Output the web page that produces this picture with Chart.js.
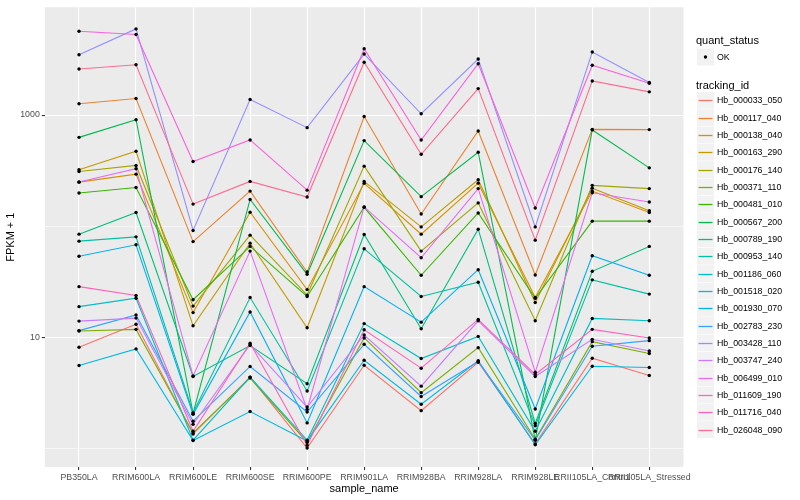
<!DOCTYPE html>
<html>
<head>
<meta charset="utf-8">
<script src="https://cdn.jsdelivr.net/npm/chart.js@4/dist/chart.umd.min.js"></script>
<style>
html,body{margin:0;padding:0;background:#ffffff;}
#wrap{position:relative;width:800px;height:500px;font-family:"Liberation Sans",Arial,sans-serif;overflow:hidden;}
#c{position:absolute;left:0;top:0;}
.lg-title{position:absolute;left:696px;font-size:11px;color:#000;line-height:13px;white-space:nowrap;}
.lg-text{position:absolute;left:717px;font-size:8.8px;color:#000;line-height:12px;white-space:nowrap;}
</style>
</head>
<body>
<div id="wrap">
<canvas id="c" width="800" height="500"></canvas>
<div id="legend"></div>
</div>
<script>
// ---- data ----
const categories = ['PB350LA','RRIM600LA','RRIM600LE','RRIM600SE','RRIM600PE','RRIM901LA','RRIM928BA','RRIM928LA','RRIM928LE','RRII105LA_Control','RRII105LA_Stressed'];
const trackingIds = ['Hb_000033_050','Hb_000117_040','Hb_000138_040','Hb_000163_290','Hb_000176_140','Hb_000371_110','Hb_000481_010','Hb_000567_200','Hb_000789_190','Hb_000953_140','Hb_001186_060','Hb_001518_020','Hb_001930_070','Hb_002783_230','Hb_003428_110','Hb_003747_240','Hb_006499_010','Hb_011609_190','Hb_011716_040','Hb_026048_090'];
const quantStatus = ['OK'];

const hb_000033_050 = [8.14, 13.1, 1.35, 4.39, 1.01, 5.61, 2.19, 5.97, 1.10, 6.49, 4.54];
const hb_000117_040 = [1263, 1408, 72.7, 207, 38.7, 971, 128.9, 719, 36.4, 743, 740];
const hb_000138_040 = [249, 294, 16.7, 133.5, 26.9, 243, 84.8, 244, 22.8, 207, 132.7];
const hb_000163_290 = [322, 472, 12.7, 70.4, 12.2, 253, 98.6, 262, 20.6, 220, 138];
const hb_000176_140 = [311, 352, 19.1, 83.1, 24.0, 347, 59.7, 162, 14.1, 233, 218];
const hb_000371_110 = [11.4, 11.8, 1.38, 4.30, 1.14, 9.88, 3.18, 8.08, 1.21, 9.15, 7.15];
const hb_000481_010 = [199, 223, 21.8, 65.8, 23.3, 148, 36.2, 131.5, 22.5, 111, 111];
const hb_000567_200 = [630, 907, 2.07, 174, 36.9, 589, 184.5, 463, 1.19, 735, 335];
const hb_000789_190 = [84.8, 132.7, 4.45, 8.43, 3.83, 84.3, 11.96, 94, 1.68, 39.3, 65.8];
const hb_000953_140 = [73.4, 80.2, 2.1, 22.8, 3.29, 62.6, 23.3, 31.3, 1.60, 32.9, 24.5];
const hb_001186_060 = [18.9, 22.5, 1.19, 4.39, 1.19, 13.3, 6.45, 10.2, 1.43, 14.8, 14.1];
const hb_001518_020 = [5.58, 7.87, 1.18, 2.15, 1.17, 6.22, 2.50, 6.15, 1.08, 5.50, 5.36];
const hb_001930_070 = [53.6, 68.0, 2.03, 16.9, 1.70, 28.6, 13.7, 40.6, 2.27, 54.2, 36.2];
const hb_002783_230 = [11.5, 15.9, 1.76, 5.47, 2.13, 8.66, 2.94, 6.06, 1.19, 8.31, 9.34];
const hb_003428_110 = [3487, 5961, 91.5, 1379, 770, 3538, 1027, 3192, 98.6, 3687, 1960];
const hb_003747_240 = [14.0, 14.9, 1.65, 8.60, 2.36, 10.5, 3.64, 14.1, 4.45, 9.60, 7.55];
const hb_006499_010 = [250, 329, 4.50, 59.7, 2.25, 149, 52.0, 218, 4.86, 200, 165];
const hb_011609_190 = [5683, 5312, 382, 597, 211, 3947, 597, 2897, 146, 2804, 1930];
const hb_011716_040 = [28.6, 23.8, 1.43, 8.84, 1.07, 11.7, 5.28, 14.5, 4.64, 11.8, 9.88];
const hb_026048_090 = [2597, 2838, 158, 253, 183, 2982, 444, 1730, 74.9, 2028, 1617];

const yGridValues = [1, 10, 100, 1000];
const yLabelledValues = [10, 1000];

// ---- styling ----
const palette = ['#F8766D','#EA8331','#D89000','#C09B00','#A3A500','#7CAE00','#39B600','#00BB4E','#00BF7D','#00C1A3','#00BFC4','#00BAE0','#00B0F6','#35A2FF','#9590FF','#C77CFF','#E76BF3','#FA62DB','#FF62BC','#FF6C91'];
const FONT = '"Liberation Sans", Arial, sans-serif';
const LEG = {keyX: 697, keyW: 17, keyH: 16.8, okY: 57, firstY: 100.3, step: 17.33};

const seriesValues = [hb_000033_050, hb_000117_040, hb_000138_040, hb_000163_290, hb_000176_140, hb_000371_110, hb_000481_010, hb_000567_200, hb_000789_190, hb_000953_140, hb_001186_060, hb_001518_020, hb_001930_070, hb_002783_230, hb_003428_110, hb_003747_240, hb_006499_010, hb_011609_190, hb_011716_040, hb_026048_090];

const datasets = trackingIds.map((id, k) => ({
  type: 'line',
  label: id,
  data: seriesValues[k].map((v, i) => ({x: i, y: v})),
  borderColor: palette[k],
  backgroundColor: palette[k],
  borderWidth: 1.1,
  pointRadius: 0,
  pointHoverRadius: 0,
  fill: false,
  tension: 0,
  order: 100 - k
}));
datasets.push({
  type: 'scatter',
  label: quantStatus[0],
  data: seriesValues.flatMap(arr => arr.map((v, i) => ({x: i, y: v}))),
  pointRadius: 1.7,
  pointHoverRadius: 1.7,
  pointBackgroundColor: '#000000',
  pointBorderWidth: 0,
  borderColor: '#000000',
  showLine: false,
  order: 0
});

const panelBg = {
  id: 'panelBg',
  beforeDraw(chart) {
    const a = chart.chartArea, ctx = chart.ctx;
    ctx.save();
    ctx.fillStyle = '#EBEBEB';
    ctx.fillRect(a.left, a.top, a.right - a.left, a.bottom - a.top);
    ctx.restore();
  }
};

// legend keys (boxes, line swatches, point swatch) drawn on the canvas
const legendKeys = {
  id: 'legendKeys',
  afterDraw(chart) {
    const ctx = chart.ctx;
    ctx.save();
    ctx.fillStyle = '#F2F2F2';
    ctx.fillRect(LEG.keyX, LEG.okY - LEG.keyH / 2, LEG.keyW, LEG.keyH);
    ctx.fillStyle = '#000000';
    ctx.beginPath();
    ctx.arc(LEG.keyX + LEG.keyW / 2, LEG.okY, 1.7, 0, Math.PI * 2);
    ctx.fill();
    trackingIds.forEach((id, i) => {
      const c = LEG.firstY + LEG.step * i;
      ctx.fillStyle = '#F2F2F2';
      ctx.fillRect(LEG.keyX, c - LEG.keyH / 2, LEG.keyW, LEG.keyH);
      const yl = Math.round(c) + 0.5;
      ctx.strokeStyle = palette[i];
      ctx.lineWidth = 1.3;
      ctx.beginPath();
      ctx.moveTo(LEG.keyX + 1.5, yl);
      ctx.lineTo(LEG.keyX + LEG.keyW - 1.5, yl);
      ctx.stroke();
    });
    ctx.restore();
  }
};

new Chart(document.getElementById('c'), {
  data: {datasets},
  plugins: [panelBg, legendKeys],
  options: {
    responsive: false,
    animation: false,
    events: [],
    layout: {padding: {left: 0, top: 5.5, right: 116.5, bottom: 0}},
    plugins: {legend: {display: false}, tooltip: {enabled: false}, title: {display: false}},
    scales: {
      x: {
        type: 'linear',
        min: -0.6,
        max: categories.length - 1 + 0.6,
        afterBuildTicks: s => { s.ticks = categories.map((_, i) => ({value: i})); },
        afterFit: s => { s.height = 33; },
        border: {display: false},
        grid: {color: '#FFFFFF', lineWidth: 1.1, drawTicks: true, tickLength: 3, tickColor: '#333333'},
        ticks: {autoSkip: false, maxRotation: 0, minRotation: 0, padding: 2, color: '#4D4D4D',
                font: {size: 8.8, family: FONT}, callback: v => categories[v] ?? ''},
        title: {display: true, text: 'sample_name', color: '#000000', font: {size: 11, family: FONT},
                padding: {top: 0, bottom: 4.4}}
      },
      y: {
        type: 'logarithmic',
        min: 0.6817,
        max: 9325,
        afterBuildTicks: s => { s.ticks = yGridValues.map(v => ({value: v})); },
        afterFit: s => { s.width = 44.8; },
        border: {display: false},
        grid: {
          color: '#FFFFFF',
          lineWidth: ctx => (ctx.tick && yLabelledValues.includes(ctx.tick.value)) ? 1.1 : 0.55,
          drawTicks: true, tickLength: 3,
          tickColor: ctx => (ctx.tick && yLabelledValues.includes(ctx.tick.value)) ? '#333333' : 'rgba(0,0,0,0)'
        },
        ticks: {padding: 2, color: '#4D4D4D', font: {size: 8.8, family: FONT},
                callback: v => yLabelledValues.includes(v) ? String(v) : ''},
        title: {display: true, text: 'FPKM + 1', color: '#000000', font: {size: 11, family: FONT},
                padding: {top: 4.4, bottom: 0}}
      }
    }
  }
});

// ---- legend text (real text) ----
(function buildLegend() {
  const lg = document.getElementById('legend');
  const add = (cls, top, text) => {
    const d = document.createElement('div');
    d.className = cls;
    d.style.top = top + 'px';
    d.textContent = text;
    lg.appendChild(d);
  };
  add('lg-title', 34.2, 'quant_status');
  add('lg-text', LEG.okY - 6, quantStatus[0]);
  add('lg-title', 78.5, 'tracking_id');
  trackingIds.forEach((id, i) => add('lg-text', LEG.firstY + LEG.step * i - 6, id));
})();
</script>
</body>
</html>
